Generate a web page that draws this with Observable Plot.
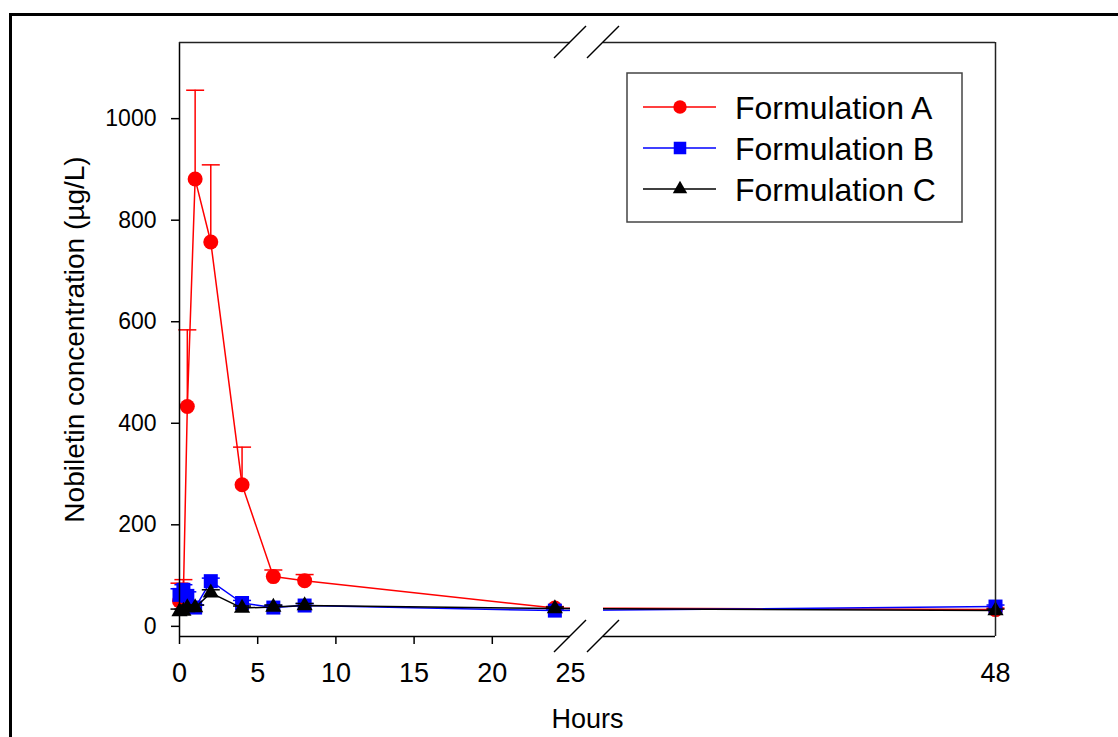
<!DOCTYPE html>
<html><head><meta charset="utf-8">
<script src="https://cdn.jsdelivr.net/npm/d3@7"></script>
<script src="https://cdn.jsdelivr.net/npm/@observablehq/plot@0.6"></script>
<style>
html,body{margin:0;padding:0;background:#fff;overflow:hidden;width:1118px;height:737px;}
#wrap{position:relative;width:1118px;height:737px;font-family:"Liberation Sans",Arial,sans-serif;}
#frame{position:absolute;left:9px;top:13px;width:1200px;height:800px;border:3px solid #000;pointer-events:none;}
</style></head><body><div id="wrap"><div id="chart"></div><div id="frame"></div></div>
<script>
// ---- data ----
const hours = [0, 0.25, 0.5, 1, 2, 4, 6, 8, 24, 48];
const seriesNames = ["Formulation A", "Formulation B", "Formulation C"];
const concA = [50, 65, 433, 881, 757, 279, 98, 90, 36, 33];
const errA  = [35, 27, 151, 175, 152, 74, 13, 12, 3, 3];
const concB = [62, 72, 60, 37, 89, 46, 37, 41, 31, 39];
const errB  = [12, 10, 8, 5, 6, 5, 4, 4, 3, 3];
const concC = [29, 30, 37, 37, 66, 36, 38, 41, 35, 31];
const errC  = [5, 4, 5, 5, 6, 4, 4, 4, 3, 3];
const xTicksMajor = [0, 5, 10, 15, 20];
const xTickLabelsExtra = [25, 48];
const yTicks = [0, 200, 400, 600, 800, 1000];
const xDomain = [0, 25, 26, 48];   // broken axis: [0,25] | [26,48]
const yDomain = [-20, 1150];

// ---- styling ----
const colors = ["#ff0000", "#0000ff", "#000000"];
const symbols = ["circle", "square", "triangle"];
const radii = [7.5, 7.9, 6];

const concs = [concA, concB, concC];
const errs = [errA, errB, errC];
const tables = seriesNames.map((name, i) =>
  hours.map((t, j) => ({series: name, t, v: concs[i][j], e: errs[i][j]})));

const capSymbol = {draw(ctx) { ctx.moveTo(-9, 0); ctx.lineTo(9, 0); }};

const seriesMarks = tables.flatMap((rows, i) => [
  Plot.ruleX(rows, {x: "t", y1: "v", y2: d => d.v + d.e, stroke: colors[i], strokeWidth: 1.5}),
  Plot.dot(rows, {x: "t", y: d => d.v + d.e, symbol: capSymbol, stroke: colors[i], fill: "none", strokeWidth: 1.5, r: 5}),
  Plot.line(rows, {x: "t", y: "v", stroke: colors[i], strokeWidth: 1.5}),
  Plot.dot(rows, {x: "t", y: "v", symbol: symbols[i], fill: colors[i], stroke: "none", r: radii[i]})
]);

const segs = [{a: xDomain[0], b: xDomain[1]}, {a: xDomain[2], b: xDomain[3]}];

function breakMarks(index, scales) {
  const g = d3.create("svg:g").attr("stroke", "#000").attr("stroke-width", 1.5);
  const xs = [scales.x(xDomain[1]), scales.x(xDomain[2])];
  for (const yv of yDomain) {
    const yy = scales.y(yv);
    for (const xx of xs) {
      g.append("line").attr("x1", xx - 16).attr("y1", yy + 16).attr("x2", xx + 16).attr("y2", yy - 16);
    }
  }
  return g.node();
}

function legendMark() {
  const g = d3.create("svg:g").attr("text-anchor", "start");
  const x0 = 627, y0 = 73, w = 335, h = 149;
  g.append("rect").attr("x", x0).attr("y", y0).attr("width", w).attr("height", h)
    .attr("fill", "white").attr("stroke", "#444").attr("stroke-width", 1.5);
  const ys = [107, 148, 189];
  const d3sym = {circle: d3.symbolCircle, square: d3.symbolSquare, triangle: d3.symbolTriangle};
  seriesNames.forEach((name, i) => {
    const yy = ys[i];
    g.append("line").attr("x1", 643).attr("x2", 716).attr("y1", yy).attr("y2", yy)
      .attr("stroke", colors[i]).attr("stroke-width", 1.5);
    g.append("path").attr("d", d3.symbol(d3sym[symbols[i]], Math.PI * radii[i] * radii[i] * 0.8)())
      .attr("transform", `translate(680,${yy})`).attr("fill", colors[i]);
    g.append("text").attr("x", 735).attr("y", yy).attr("dy", "0.36em")
      .attr("text-anchor", "start").attr("font-size", 32).attr("fill", "#000").text(name);
  });
  return g.node();
}

const chart = Plot.plot({
  width: 1118,
  height: 737,
  marginLeft: 179,
  marginRight: 123,
  marginTop: 42,
  marginBottom: 101,
  style: {fontFamily: "'Liberation Sans', Arial, sans-serif", color: "#000", background: "transparent"},
  x: {type: "linear", domain: xDomain, range: [179, 570, 603, 995]},
  y: {type: "linear", domain: yDomain},
  marks: [
    ...seriesMarks,
    Plot.rect([0], {x1: xDomain[1], x2: xDomain[2], y1: yDomain[0], y2: yDomain[1], fill: "white"}),
    Plot.ruleX([xDomain[0]], {y1: yDomain[0], y2: yDomain[1], stroke: "#000", strokeWidth: 1.5}),
    Plot.ruleX([xDomain[3]], {y1: yDomain[0], y2: yDomain[1], stroke: "#222", strokeWidth: 1.5}),
    Plot.ruleY(segs, {y: () => yDomain[0], x1: "a", x2: "b", stroke: "#000", strokeWidth: 1.5}),
    Plot.ruleY(segs, {y: () => yDomain[1], x1: "a", x2: "b", stroke: "#222", strokeWidth: 1.5}),
    breakMarks,
    Plot.axisY(yTicks, {tickSize: 8, tickPadding: 15, fontSize: 23, label: null, strokeWidth: 1.5, tickFormat: d => String(d)}),
    Plot.axisX(xTicksMajor, {tickSize: 8, tickPadding: 18, fontSize: 27, label: null, strokeWidth: 1.5, tickFormat: d => String(d)}),
    Plot.axisX(xTickLabelsExtra, {tickSize: 0, tickPadding: 26, fontSize: 27, label: null, tickFormat: d => String(d)}),
    Plot.text(["Hours"], {frameAnchor: "bottom", dy: 91, fontSize: 27, text: d => d}),
    Plot.text(["Nobiletin concentration (µg/L)"], {frameAnchor: "left", textAnchor: "middle", dx: -104, rotate: -90, fontSize: 28, text: d => d}),
    legendMark
  ]
});
document.getElementById("chart").appendChild(chart);
</script></body></html>
